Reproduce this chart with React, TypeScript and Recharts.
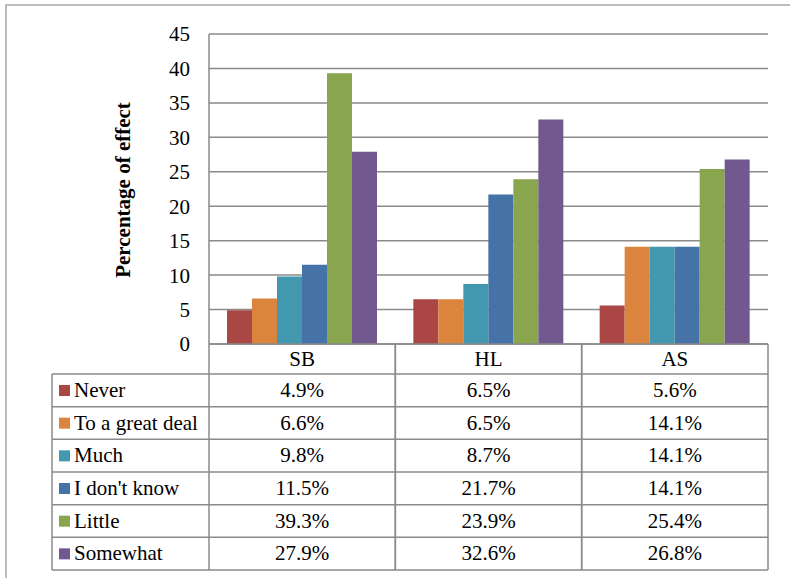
import { Bar, BarChart, CartesianGrid, XAxis, YAxis } from "recharts";

const categories = ["SB", "HL", "AS"];
const seriesNames = ["Never", "To a great deal", "Much", "I don't know", "Little", "Somewhat"];
const never = [4.9, 6.5, 5.6];
const greatDeal = [6.6, 6.5, 14.1];
const much = [9.8, 8.7, 14.1];
const dontKnow = [11.5, 21.7, 14.1];
const little = [39.3, 23.9, 25.4];
const somewhat = [27.9, 32.6, 26.8];
const yTicks = [0, 5, 10, 15, 20, 25, 30, 35, 40, 45];

const seriesValues = [never, greatDeal, much, dontKnow, little, somewhat];
const COLORS = ["#AA4643", "#DB843D", "#4198AF", "#4572A7", "#89A54E", "#71588F"];
const KEYS = ["s0", "s1", "s2", "s3", "s4", "s5"];

const data = categories.map((c, i) => {
  const row: Record<string, string | number> = { name: c };
  seriesValues.forEach((vals, s) => {
    row[KEYS[s]] = vals[i];
  });
  return row;
});

const W = 790;
const H = 578;
const PLOT_LEFT = 209;
const PLOT_RIGHT = 768;
const PLOT_TOP = 34;
const TABLE_TOP = 344;
const HEADER_H = 30;
const ROW_H = 32.67;
const TABLE_LEFT = 52;
const COL_W = (PLOT_RIGHT - PLOT_LEFT) / categories.length;
const TABLE_BOTTOM = TABLE_TOP + HEADER_H + ROW_H * seriesNames.length;
const FONT = "'Liberation Serif', 'Times New Roman', serif";
const LINE = "#8a8a8a";

// one table column per category, positioned on the x axis tick
function TableColumn(props: any) {
  const { x, payload } = props;
  const i = payload.index;
  const left = x - COL_W / 2;
  const right = x + COL_W / 2;
  return (
    <g>
      <line x1={left} y1={TABLE_TOP} x2={left} y2={TABLE_BOTTOM} stroke={LINE} strokeWidth={1.5} />
      <line x1={right} y1={TABLE_TOP} x2={right} y2={TABLE_BOTTOM} stroke={LINE} strokeWidth={1.5} />
      <text x={x} y={TABLE_TOP + 22} textAnchor="middle" fontFamily={FONT} fontSize={21} fill="#000">
        {payload.value}
      </text>
      {seriesValues.map((vals, s) => (
        <text
          key={s}
          x={x}
          y={TABLE_TOP + HEADER_H + ROW_H * s + 23}
          textAnchor="middle"
          fontFamily={FONT}
          fontSize={21}
          fill="#000"
        >
          {vals[i].toFixed(1)}%
        </text>
      ))}
    </g>
  );
}

export default function App() {
  return (
    <div style={{ position: "absolute", left: 0, top: 0, width: W, height: H, background: "#fff" }}>
      <BarChart
        width={W}
        height={H}
        data={data}
        margin={{ top: PLOT_TOP, right: W - PLOT_RIGHT, left: PLOT_LEFT - 60, bottom: 0 }}
        barCategoryGap={18}
        barGap={0}
      >
        <CartesianGrid vertical={false} stroke={LINE} strokeWidth={1.5} />
        <XAxis
          dataKey="name"
          height={H - TABLE_TOP}
          axisLine={false}
          tickLine={false}
          interval={0}
          tick={<TableColumn />}
        />
        <YAxis
          width={60}
          domain={[0, 45]}
          ticks={yTicks}
          interval={0}
          axisLine={{ stroke: LINE, strokeWidth: 1.5 }}
          tickLine={false}
          tickMargin={13}
          tick={{ fontFamily: FONT, fontSize: 21, fill: "#000" }}
        />
        {KEYS.map((k, s) => (
          <Bar key={k} dataKey={k} name={seriesNames[s]} fill={COLORS[s]} isAnimationActive={false} />
        ))}
      </BarChart>
      <svg
        width={W}
        height={H}
        style={{ position: "absolute", left: 0, top: 0, pointerEvents: "none" }}
      >
        <rect x={6} y={5} width={W} height={H} fill="none" stroke="#a6a6a6" strokeWidth={1.5} />
        <text
          transform={`translate(130, 190) rotate(-90)`}
          textAnchor="middle"
          fontFamily={FONT}
          fontWeight="bold"
          fontSize={21}
          fill="#000"
        >
          Percentage of effect
        </text>
        {/* header row borders */}
        <line x1={PLOT_LEFT} y1={TABLE_TOP} x2={PLOT_RIGHT} y2={TABLE_TOP} stroke={LINE} strokeWidth={1.5} />
        {/* legend column and row lines */}
        {seriesNames.map((n, s) => {
          const top = TABLE_TOP + HEADER_H + ROW_H * s;
          return (
            <g key={n}>
              <line x1={TABLE_LEFT} y1={top} x2={PLOT_RIGHT} y2={top} stroke={LINE} strokeWidth={1.5} />
              <rect x={59} y={top + 11} width={11} height={11} fill={COLORS[s]} />
              <text x={74} y={top + 23} fontFamily={FONT} fontSize={21} fill="#000">
                {n}
              </text>
            </g>
          );
        })}
        <line x1={TABLE_LEFT} y1={TABLE_BOTTOM} x2={PLOT_RIGHT} y2={TABLE_BOTTOM} stroke={LINE} strokeWidth={1.5} />
        <line
          x1={TABLE_LEFT}
          y1={TABLE_TOP + HEADER_H}
          x2={TABLE_LEFT}
          y2={TABLE_BOTTOM}
          stroke={LINE}
          strokeWidth={1.5}
        />
      </svg>
    </div>
  );
}
